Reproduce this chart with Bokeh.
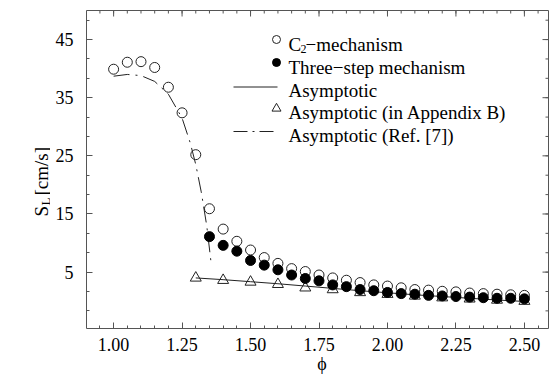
import math
from bokeh.plotting import figure
from bokeh.layouts import row
from bokeh.models import Range1d, FixedTicker, Label
from bokeh.core.properties import value
from bokeh.embed import file_html
from bokeh.resources import INLINE

# Laminar burning velocity S_L versus equivalence ratio phi
phi_c2 = [1.00, 1.05, 1.10, 1.15, 1.20, 1.25, 1.30, 1.35, 1.40, 1.45, 1.50,
          1.55, 1.60, 1.65, 1.70, 1.75, 1.80, 1.85, 1.90, 1.95, 2.00,
          2.05, 2.10, 2.15, 2.20, 2.25, 2.30, 2.35, 2.40, 2.45, 2.50]
sl_c2 = [39.9, 41.1, 41.2, 40.2, 36.8, 32.4, 25.2, 15.9, 12.4, 10.3, 8.8,
         7.5, 6.5, 5.6, 5.1, 4.5, 4.0, 3.6, 3.2, 2.8, 2.6,
         2.3, 2.0, 1.9, 1.7, 1.6, 1.4, 1.3, 1.2, 1.1, 1.0]

phi_three = [1.35, 1.40, 1.45, 1.50, 1.55, 1.60, 1.65, 1.70, 1.75, 1.80,
             1.85, 1.90, 1.95, 2.00, 2.05, 2.10, 2.15, 2.20, 2.25, 2.30,
             2.35, 2.40, 2.45, 2.50]
sl_three = [11.1, 9.6, 8.6, 7.0, 6.2, 5.4, 4.5, 3.9, 3.5, 2.8,
            2.5, 2.0, 1.8, 1.5, 1.3, 1.2, 1.0, 0.9, 0.8, 0.7,
            0.6, 0.5, 0.5, 0.4]

phi_asym = [1.30, 1.40, 1.50, 1.60, 1.70, 1.80, 1.90, 2.00, 2.10, 2.20, 2.30, 2.40, 2.50]
sl_asym = [4.0, 3.7, 3.35, 3.0, 2.6, 2.2, 1.8, 1.45, 1.1, 0.8, 0.5, 0.2, -0.05]

phi_appB = [1.30, 1.40, 1.50, 1.60, 1.70, 1.80, 1.90, 2.00, 2.10, 2.20, 2.30, 2.40, 2.50]
sl_appB = [4.0, 3.6, 3.3, 2.9, 2.3, 2.0, 1.5, 1.2, 0.9, 0.6, 0.4, 0.2, 0.0]

phi_ref7 = [1.00, 1.05, 1.10, 1.15, 1.20, 1.25, 1.28, 1.30, 1.32, 1.34, 1.355]
sl_ref7 = [38.7, 39.0, 38.8, 37.8, 35.6, 31.5, 27.2, 23.5, 18.8, 13.0, 7.0]

x_ticks = [1.00, 1.25, 1.50, 1.75, 2.00, 2.25, 2.50]
x_tick_labels = ["1.00", "1.25", "1.50", "1.75", "2.00", "2.25", "2.50"]
y_ticks = [5, 15, 25, 35, 45]
y_tick_labels = ["5", "15", "25", "35", "45"]

legend_labels = ["Three\u2212step mechanism", "Asymptotic",
                 "Asymptotic (in Appendix B)", "Asymptotic (Ref. [7])"]

FONT = "Liberation Serif"
INK = "#222222"
TICK = "#555555"
W, H = 551, 379
STRIP = 50                      # width of the strip carrying the y title
X0, X1 = 0.901, 2.588
Y0, Y1 = -4.7, 50.0
FL, FR, FT, FB = 86, 548, 10, 328


def dx(px):
    return X0 + (px - FL) / (FR - FL) * (X1 - X0)


def dy(py):
    return Y1 - (py - FT) / (FB - FT) * (Y1 - Y0)


x_minor = [round(0.90 + 0.05 * i, 2) for i in range(35)]
y_minor = [-5 + 10.0 / 3.0 * i for i in range(17)]

p = figure(width=W - STRIP, height=H, x_range=Range1d(X0, X1), y_range=Range1d(Y0, Y1),
           output_backend="svg", toolbar_location=None,
           min_border_left=FL - STRIP, min_border_right=W - FR,
           min_border_top=FT, min_border_bottom=H - FB)
p.xgrid.visible = False
p.ygrid.visible = False
p.outline_line_color = TICK
p.outline_line_width = 1
p.background_fill_color = "white"
p.border_fill_color = "white"


def style_axis(ax, ticks, minor, labels, standoff):
    ax.ticker = FixedTicker(ticks=ticks, minor_ticks=minor)
    ax.major_label_overrides = dict(zip(ticks, labels))
    ax.axis_line_color = None
    ax.major_tick_line_color = TICK
    ax.minor_tick_line_color = TICK
    ax.major_tick_in = 6
    ax.major_tick_out = 0
    ax.minor_tick_in = 3
    ax.minor_tick_out = 0
    ax.major_label_text_font = FONT
    ax.major_label_text_font_size = "18px"
    ax.major_label_text_color = "black"
    ax.major_label_standoff = standoff


xa = p.xaxis[0]
style_axis(xa, x_ticks, x_minor, x_tick_labels, 9)
xa.axis_label = "\u00a0\u00a0\u03d5"
xa.axis_label_text_font = FONT
xa.axis_label_text_font_size = "18px"
xa.axis_label_text_font_style = "normal"
xa.axis_label_text_color = "black"
xa.axis_label_standoff = 0

ya = p.yaxis[0]
style_axis(ya, y_ticks, y_minor, y_tick_labels, 13)

# mirrored ticks along the top and right edges of the frame
tick_dy = (Y1 - Y0) / (FB - FT)
tick_dx = (X1 - X0) / (FR - FL)
p.segment(x_ticks, [Y1] * len(x_ticks), x_ticks, [Y1 - 6 * tick_dy] * len(x_ticks),
          line_color=TICK, line_width=1)
p.segment(x_minor, [Y1] * len(x_minor), x_minor, [Y1 - 3 * tick_dy] * len(x_minor),
          line_color=TICK, line_width=1)
p.segment([X1] * len(y_ticks), y_ticks, [X1 - 6 * tick_dx] * len(y_ticks), y_ticks,
          line_color=TICK, line_width=1)
p.segment([X1] * len(y_minor), y_minor, [X1 - 3 * tick_dx] * len(y_minor), y_minor,
          line_color=TICK, line_width=1)

# curves and symbols
p.line(phi_asym, sl_asym, line_color=INK, line_width=1)
p.scatter(phi_appB, sl_appB, marker="triangle", size=11, fill_color=None,
          line_color=INK, line_width=1)
p.line(phi_ref7, sl_ref7, line_color=INK, line_width=1, line_dash="16 6 2 6")
p.scatter(phi_c2, sl_c2, marker="circle", size=10, fill_color=None,
          line_color=INK, line_width=1)
p.scatter(phi_three, sl_three, marker="circle", size=10, fill_color="black",
          line_color="black", line_width=1)

# legend
TX = 288
rows = [44, 67, 90, 112, 135]
p.scatter([dx(276)], [dy(39)], marker="circle", size=8, fill_color=None,
          line_color=INK, line_width=1)
p.scatter([dx(276)], [dy(62)], marker="circle", size=8, fill_color="black",
          line_color="black")
p.line([dx(233), dx(277)], [dy(86.5)] * 2, line_color=INK, line_width=1)
p.scatter([dx(276)], [dy(108)], marker="triangle", size=9, fill_color=None,
          line_color=INK, line_width=1)
p.line([dx(233), dx(277)], [dy(131)] * 2, line_color=INK, line_width=1,
       line_dash="14 5 2 5")


def text(px, py, s, size="19px"):
    p.add_layout(Label(x=dx(px), y=dy(py), text=s, text_font=FONT,
                       text_font_size=size, text_color="black",
                       text_align="left", text_baseline="alphabetic"))


text(TX, rows[0], "C")
text(TX + 12, rows[0] + 4, "2", size="12px")
text(TX + 17, rows[0], "\u2212mechanism")
for r, s in zip(rows[1:], legend_labels):
    text(TX, r, s)

# strip on the left holding the rotated y title; the row aligns its frame
# with the main frame, so its y data units are page pixels from the top
side = figure(width=STRIP, height=H, x_range=Range1d(0, STRIP), y_range=Range1d(FB, FT),
              output_backend="svg", toolbar_location=None,
              min_border=0, min_border_left=0, min_border_right=0,
              min_border_top=FT, min_border_bottom=H - FB)
side.axis.visible = False
side.xgrid.visible = False
side.ygrid.visible = False
side.outline_line_color = None
side.background_fill_color = "white"
side.border_fill_color = "white"

up = math.pi / 2
# S and the subscript L are anchored at their upper ends (right-aligned text)
side.text(x=[41], y=[205.4], text=["S"], angle=up, text_font=value(FONT),
          text_font_size="19px", text_color="black",
          text_align="right", text_baseline="alphabetic")
side.text(x=[45], y=[197.1], text=["L"], angle=up, text_font=value(FONT),
          text_font_size="13px", text_color="black",
          text_align="right", text_baseline="alphabetic")
side.text(x=[41], y=[195], text=["[cm/s]"], angle=up, text_font=value(FONT),
          text_font_size="19px", text_color="black",
          text_align="left", text_baseline="alphabetic")

layout = row(side, p)
open("out.html", "w").write(file_html(layout, INLINE))
